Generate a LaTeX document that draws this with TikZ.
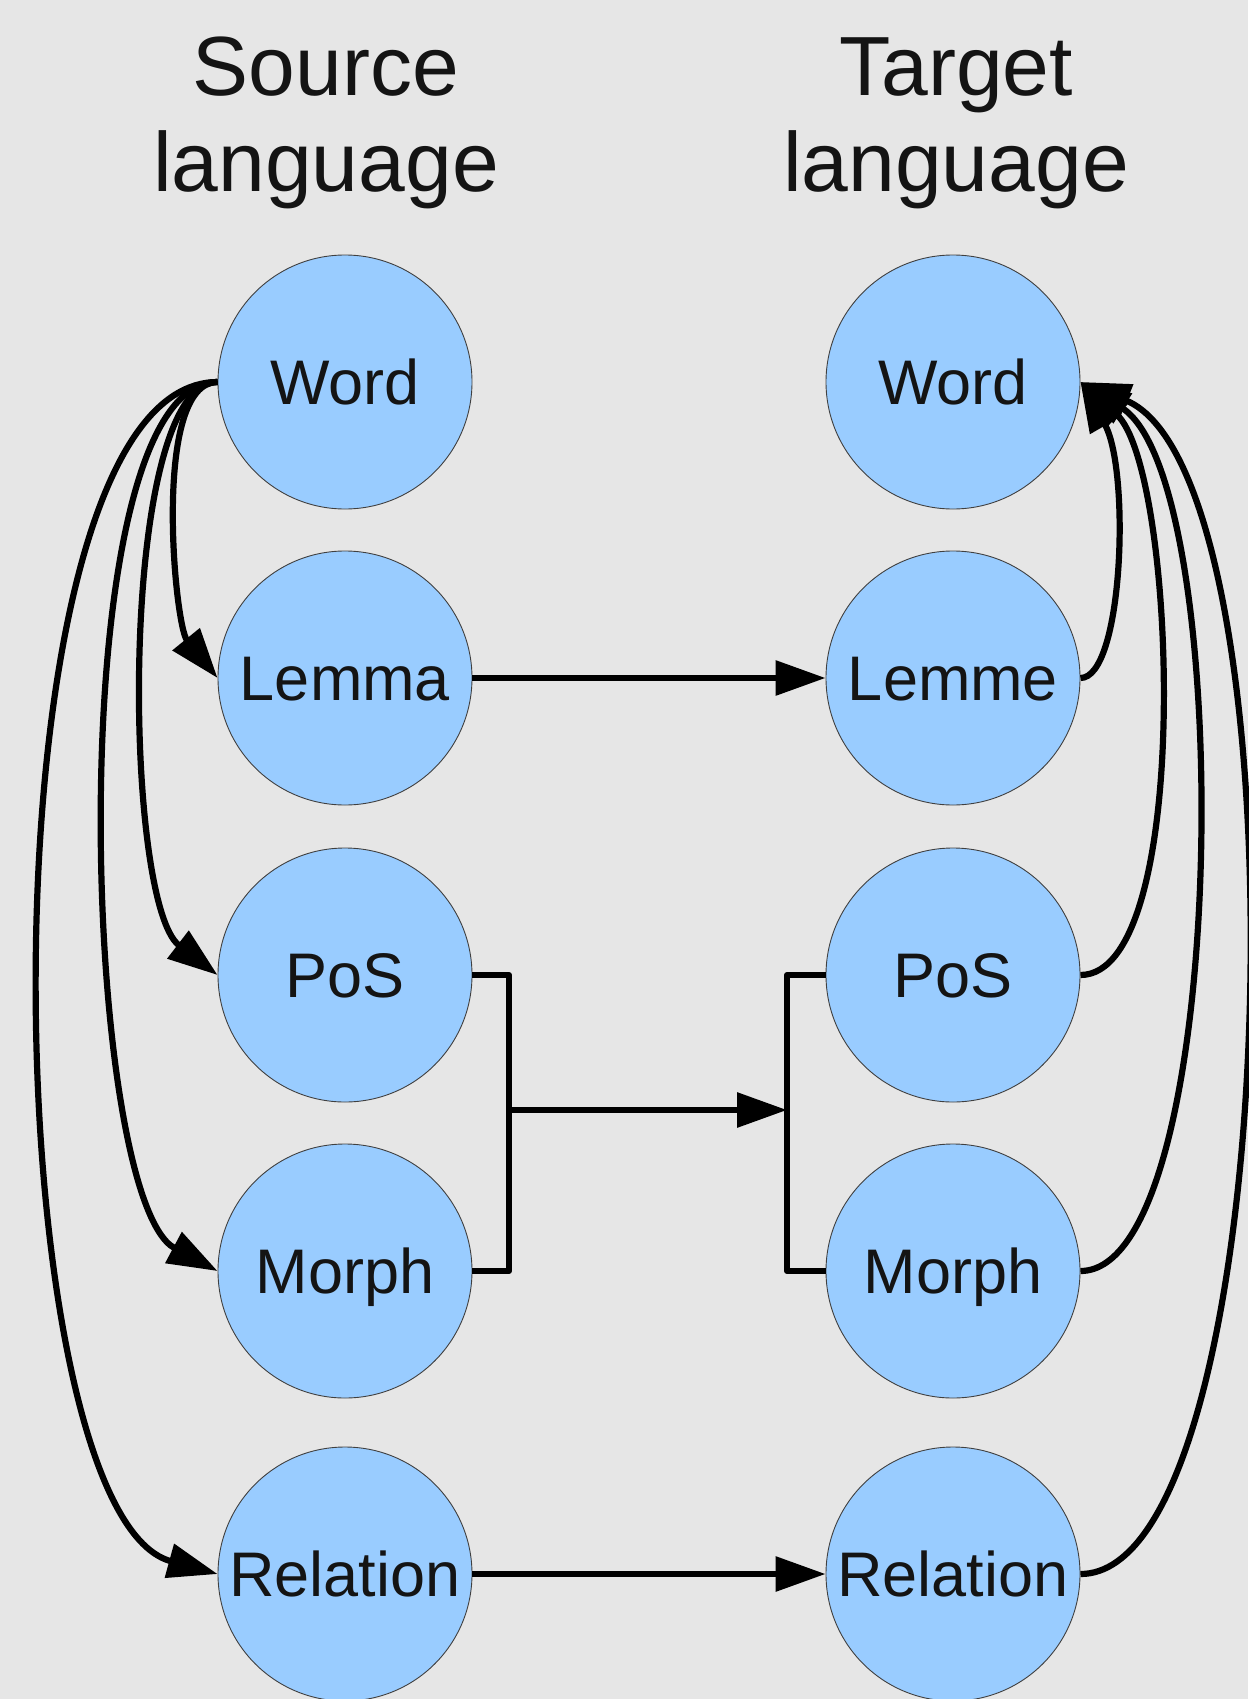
\documentclass[tikz,border=0pt]{standalone}
\usepackage{fontspec}
\setmainfont{Liberation Sans}
\usetikzlibrary{arrows.meta,calc}
\definecolor{bgc}{HTML}{E6E6E6}
\definecolor{circ}{HTML}{99CCFF}
\begin{document}
\begin{tikzpicture}[x=1pt,y=-1pt,
  lang/.style={circle, fill=circ, draw=black!75, line width=0.9pt, minimum size=254pt,
    inner sep=0pt, font=\fontsize{63}{70}\selectfont, text=black!92, text depth=0pt, text height=45pt},
  ttl/.style={font=\fontsize{84}{95}\selectfont, anchor=base, inner sep=0pt, text=black!92},
  conn/.style={line width=6.2pt, -{Triangle[length=50pt,width=34pt]}},
  plain/.style={line width=6.2pt, line join=round}]
\fill[bgc] (0,0) rectangle (1248,1699);
\useasboundingbox (0,0) rectangle (1248,1699);

% titles
\node[ttl] (sT1) at (326,96) {Source};
\node[ttl] (sT2) at (326,192) {language};
\node[ttl] (tT1) at (956,96) {Target};
\node[ttl] (tT2) at (956,192) {language};

% source nodes
\node[lang] (sWord) at (345,382) {Word};
\node[lang] (sLemma) at (345,678) {Lemma};
\node[lang] (sPoS) at (345,975) {PoS};
\node[lang] (sMorph) at (345,1271) {Morph};
\node[lang] (sRel) at (345,1574) {Relation};
% target nodes
\node[lang] (tWord) at (953,382) {Word};
\node[lang] (tLemme) at (953,678) {Lemme};
\node[lang] (tPoS) at (953,975) {PoS};
\node[lang] (tMorph) at (953,1271) {Morph};
\node[lang] (tRel) at (953,1574) {Relation};

% straight connectors
\draw[conn] (sLemma) -- (tLemme);
\draw[conn] (sRel) -- (tRel);

% bracket PoS/Morph
\coordinate (jL) at (509,1110);
\coordinate (jR) at (787,1110);
\draw[plain] (sPoS.east) -| (jL) |- (sMorph.east);
\draw[plain] (tPoS.west) -| (jR) |- (tMorph.west);
\draw[conn] (jL) -- (jR);

% source fan
\draw[conn] (sWord.west) .. controls ($(sWord.west)+(-66,0)$) and ($(sLemma.west)+(-43,-53)$) .. (sLemma.west);
\draw[conn] (sWord.west) .. controls ($(sWord.west)+(-100,0)$) and ($(sPoS.west)+(-95,-73)$) .. (sPoS.west);
\draw[conn] (sWord.west) .. controls ($(sWord.west)+(-160,0)$) and ($(sMorph.west)+(-137,-73)$) .. (sMorph.west);
\draw[conn] (sWord.west) .. controls ($(sWord.west)+(-243,0)$) and ($(sRel.west)+(-226,-62)$) .. (sRel.west);

% target fan
\draw[conn] (tLemme.east) .. controls ($(tLemme.east)+(43,0)$) and ($(tWord.east)+(50,87)$) .. (tWord.east);
\draw[conn] (tPoS.east) .. controls ($(tPoS.east)+(114,0)$) and ($(tWord.east)+(96,86)$) .. (tWord.east);
\draw[conn] (tMorph.east) .. controls ($(tMorph.east)+(150,0)$) and ($(tWord.east)+(157,98)$) .. (tWord.east);
\draw[conn] (tRel.east) .. controls ($(tRel.east)+(206,0)$) and ($(tWord.east)+(230,93)$) .. (tWord.east);
\end{tikzpicture}
\end{document}
